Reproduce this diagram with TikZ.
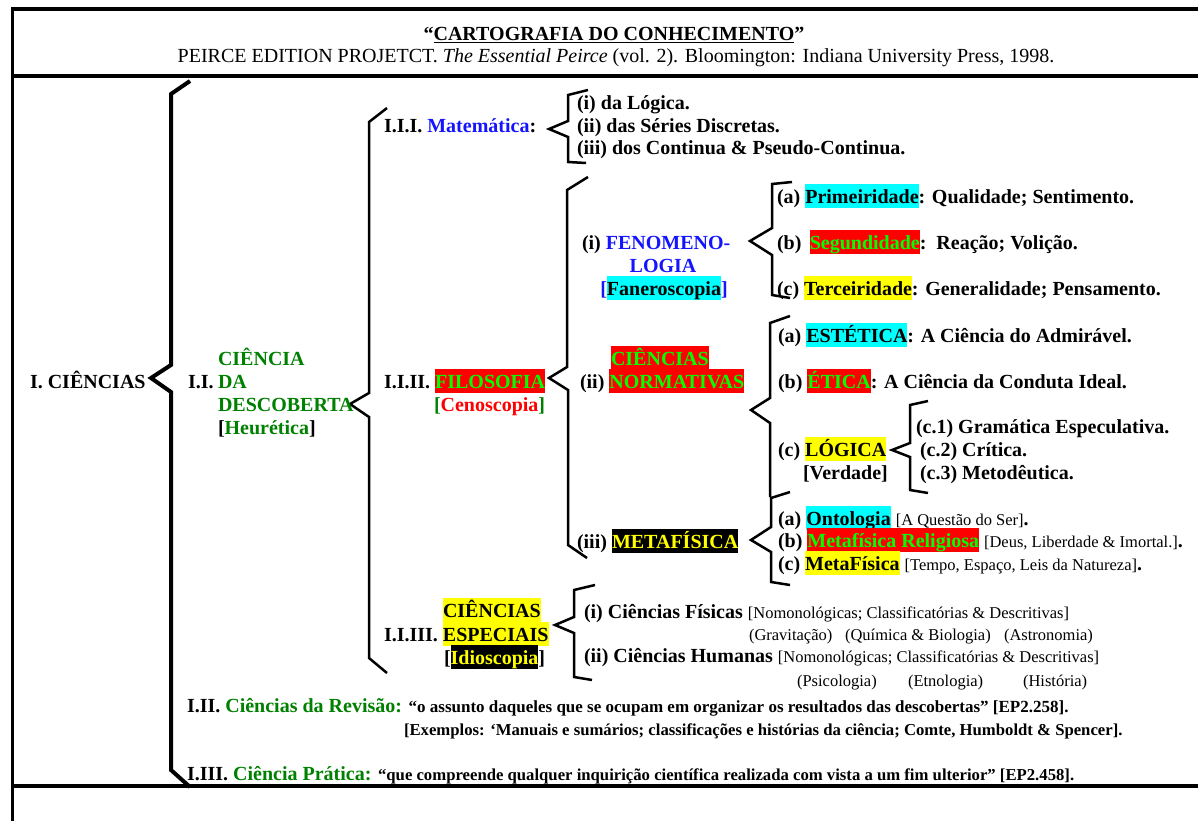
\documentclass[tikz,border=0pt]{standalone}
\usepackage{fontspec}
\setmainfont{Liberation Serif}
\definecolor{dgreen}{RGB}{0,128,0}
\definecolor{lgreen}{RGB}{0,255,0}
\definecolor{hred}{RGB}{255,0,0}
\definecolor{hcyan}{RGB}{0,255,255}
\definecolor{hyellow}{RGB}{255,255,0}
\definecolor{hblue}{RGB}{20,20,255}
\newcommand{\fA}{\fontsize{20}{24}\selectfont\bfseries}
\newcommand{\fN}{\fontsize{20}{24}\selectfont\mdseries}
\newcommand{\fR}{\fontsize{16.5}{20}\selectfont\mdseries}
\newcommand{\fQ}{\fontsize{17}{20}\selectfont\bfseries}
\newcommand{\fQs}{\fontsize{16.7}{20}\selectfont\bfseries}
\newcommand{\hlt}[3]{{\setlength{\fboxsep}{0pt}\colorbox{#1}{\color{#2}\rule[-0.25em]{0pt}{1.2em}#3}}}
\tikzset{
  tx/.style={anchor=base west, inner sep=0pt, outer sep=0pt, font=\fA},
  txc/.style={anchor=base, inner sep=0pt, outer sep=0pt, font=\fA},
  frame/.style={line width=4.5pt},
  bigbrk/.style={line width=4pt},
  brk/.style={line width=2.5pt}
}
\begin{document}
\begin{tikzpicture}[x=1pt,y=-1pt]
\useasboundingbox (0,0) rectangle (1198,821);
% frame
\draw[frame] (12,9) -- (1198,9);
\draw[line width=3pt] (12,7) -- (12,821);
\draw[frame] (12,76) -- (1198,76);
\draw[frame] (12,786) -- (1198,786);
% header
\node[txc] (title) at (614,41) {“\underline{CARTOGRAFIA DO CONHECIMENTO}”};
\node[txc,font=\fN] (sub) at (616,63) {PEIRCE EDITION PROJETCT. \textit{The Essential Peirce} (vol. 2). Bloomington: Indiana University Press, 1998.};
% brackets
\draw[bigbrk] (190,81) -- (171,94) -- (171,365) -- (151,378) -- (171,392) -- (171,770) -- (190,787);
\draw[brk] (387,108) -- (369,122) -- (369,393) -- (350,404) -- (369,417) -- (369,658) -- (387,673);
\draw[brk] (588,90) -- (568,95) -- (568,121) -- (549,129) -- (568,137) -- (568,162) -- (586,163);
\draw[brk] (588,177) -- (567,190) -- (567,367) -- (549,378) -- (568,390) -- (568,545) -- (587,558);
\draw[brk] (792,182) -- (772,184) -- (772,228) -- (750,241) -- (772,255) -- (772,295) -- (790,298);
\draw[brk] (790,316) -- (770,323) -- (770,398) -- (751,410) -- (770,423) -- (770,497);
\draw[brk] (928,401) -- (910,405) -- (910,443) -- (892,450) -- (910,457) -- (910,490) -- (928,493);
\draw[brk] (790,492) -- (771,498) -- (771,527) -- (751,540) -- (771,552) -- (771,582) -- (790,585);
\draw[brk] (595,585) -- (574,590) -- (574,617) -- (555,625) -- (574,633) -- (574,677) -- (592,680);
% level 1-2
\node[tx] (ci) at (30,388) {I. CIÊNCIAS};
\node[tx] (ii) at (188,388) {I.I.};
\node[tx,text=dgreen] (cd1) at (218,365) {CIÊNCIA};
\node[tx,text=dgreen] (cd2) at (218,388) {DA};
\node[tx,text=dgreen] (cd3) at (218,411) {DESCOBERTA};
\node[tx] (cd4) at (218,434) {[\textcolor{dgreen}{Heurética}]};
% matematica
\node[tx] (mat) at (384,133) {I.I.I. \textcolor{hblue}{Matemática}:};
\node[tx] (m1) at (577,110) {(i) da Lógica.};
\node[tx] (m2) at (577,132.5) {(ii) das Séries Discretas.};
\node[tx] (m3) at (577,155) {(iii) dos Continua \& Pseudo-Continua.};
% filosofia
\node[tx] (fil) at (384,388) {I.I.II. \hlt{hred}{lgreen}{FILOSOFIA}};
\node[tx] (cen) at (434,411) {\textcolor{dgreen}{[}\textcolor{hred}{Cenoscopia}\textcolor{dgreen}{]}};
\node[tx] (fen1) at (582,249) {(i) \textcolor{hblue}{FENOMENO-}};
\node[txc,text=hblue] (fen2) at (663,272) {LOGIA};
\node[txc] (fen3) at (664,295) {\textcolor{hblue}{[}\hlt{hcyan}{black}{Faneroscopia}\textcolor{hblue}{]}};
\node[tx] (cn1) at (611,365) {\hlt{hred}{lgreen}{CIÊNCIAS}};
\node[tx] (cn2) at (580,388) {(ii) \hlt{hred}{lgreen}{NORMATIVAS}};
\node[tx] (met) at (577,548) {(iii) \hlt{black}{hyellow}{METAFÍSICA}};
% fenomenologia items
\node[tx] (f1) at (777,203) {(a) \hlt{hcyan}{black}{Primeiridade}: Qualidade; Sentimento.};
\node[tx] (f2) at (777,249) {(b)\, \hlt{hred}{lgreen}{Segundidade}:\, Reação; Volição.};
\node[tx] (f3) at (777,295) {(c) \hlt{hyellow}{black}{Terceiridade}: Generalidade; Pensamento.};
% normativas items
\node[tx] (n1) at (778,342) {(a) \hlt{hcyan}{black}{ESTÉTICA}: A Ciência do Admirável.};
\node[tx] (n2) at (778,388) {(b) \hlt{hred}{lgreen}{ÉTICA}: A Ciência da Conduta Ideal.};
\node[tx] (n3) at (778,456) {(c) \hlt{hyellow}{black}{LÓGICA}};
\node[tx] (n4) at (803,479) {[Verdade]};
\node[tx] (l1) at (916,433) {(c.1) Gramática Especulativa.};
\node[tx] (l2) at (920,456) {(c.2) Crítica.};
\node[tx] (l3) at (920,479) {(c.3) Metodêutica.};
% metafisica items
\node[tx] (mt1) at (778,525) {(a) \hlt{hcyan}{black}{Ontologia} {\fR[A Questão do Ser]}.};
\node[tx] (mt2) at (778,547) {(b) \hlt{hred}{lgreen}{Metafísica Religiosa} {\fR[Deus, Liberdade \& Imortal.]}.};
\node[tx] (mt3) at (778,570) {(c) \hlt{hyellow}{black}{MetaFísica} {\fR[Tempo, Espaço, Leis da Natureza]}.};
% especiais
\node[tx] (ce1) at (443,617) {\hlt{hyellow}{black}{CIÊNCIAS}};
\node[tx] (ce2) at (384,641) {I.I.III. \hlt{hyellow}{black}{ESPECIAIS}};
\node[tx] (ce3) at (444,664) {[\hlt{black}{hyellow}{Idioscopia}]};
\node[tx] (e1) at (584,618) {(i) Ciências Físicas {\fR[Nomonológicas; Classificatórias \& Descritivas]}};
\node[tx,font=\fR] (e2a) at (749,640) {(Gravitação)};
\node[tx,font=\fR] (e2b) at (845,640) {(Química \& Biologia)};
\node[tx,font=\fR] (e2c) at (1004,640) {(Astronomia)};
\node[tx] (e3) at (584,662) {(ii) Ciências Humanas {\fR[Nomonológicas; Classificatórias \& Descritivas]}};
\node[tx,font=\fR] (e4a) at (797,686) {(Psicologia)};
\node[tx,font=\fR] (e4b) at (908,686) {(Etnologia)};
\node[tx,font=\fR] (e4c) at (1023,686) {(História)};
% revisao / pratica
\node[tx] (rev) at (187,712) {I.II. \textcolor{dgreen}{Ciências da Revisão:} {\fQ “o assunto daqueles que se ocupam em organizar os resultados das descobertas” [EP2.258].}};
\node[tx,font=\fQs] (ex) at (404,735) {[Exemplos: ‘Manuais e sumários; classificações e histórias da ciência; Comte, Humboldt \& Spencer].};
\node[tx] (pra) at (187,780) {I.III. \textcolor{dgreen}{Ciência Prática:} {\fQs “que compreende qualquer inquirição científica realizada com vista a um fim ulterior” [EP2.458].}};
\end{tikzpicture}
\end{document}
